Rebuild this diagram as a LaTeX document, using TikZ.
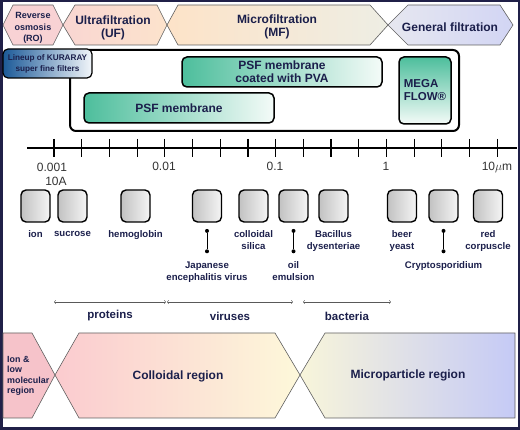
\documentclass[tikz,border=0pt]{standalone}
\usepackage{fontspec}
\setmainfont{Liberation Sans}
\usetikzlibrary{positioning}

\definecolor{navy}{HTML}{1B1F4B}
\definecolor{frame}{HTML}{202048}
\definecolor{roFill}{HTML}{F8D2D4}
\definecolor{ufA}{HTML}{F9D6D2}
\definecolor{ufB}{HTML}{FCE3CC}
\definecolor{mfA}{HTML}{FDE3C8}
\definecolor{mfB}{HTML}{F9EBD6}
\definecolor{mfC}{HTML}{EEEEE4}
\definecolor{gfA}{HTML}{E6E7F0}
\definecolor{gfB}{HTML}{D2D5F4}
\definecolor{kurA}{HTML}{1C5A98}
\definecolor{kurB}{HTML}{F2F6FA}
\definecolor{psfA}{HTML}{4DBE9C}
\definecolor{psfB}{HTML}{F4FBF8}
\definecolor{ionFill}{HTML}{F6C3CA}
\definecolor{colA}{HTML}{FBCBCF}
\definecolor{colB}{HTML}{FDE3C5}
\definecolor{colC}{HTML}{FDF8DA}
\definecolor{micA}{HTML}{F8F5DA}
\definecolor{micB}{HTML}{E4E4E8}
\definecolor{micC}{HTML}{C5CAF6}

\begin{document}
\begin{tikzpicture}[x=1pt,y=-1pt,>=to,
	band/.style={draw=gray!75!black, line width=0.6pt},
	bandtext/.style={text=navy, font=\bfseries\fontsize{12}{13}\selectfont, align=center},
	filter/.style={draw=black, line width=1.5pt, rounded corners=5pt, text=navy, font=\bfseries\fontsize{12}{13}\selectfont, align=center},
	particle/.style={draw=black, line width=1.4pt, rounded corners=5pt, minimum width=29pt, minimum height=32pt, inner sep=0pt, left color=black!24, right color=black!4},
	plabel/.style={text=navy, font=\bfseries\fontsize{9.6}{12}\selectfont, align=center, inner sep=0pt},
	pindot/.style={circle, fill=black, inner sep=0pt, minimum size=4pt},
	pin/.style={line width=1pt},
	sizerange/.style={<->, draw=gray!70!black, line width=0.5pt},
	scalelbl/.style={text=black!80, font=\fontsize{12}{13}\selectfont}]
	%frame
	\useasboundingbox (0,0) rectangle (520,430);
	\draw[line width=2.5pt, draw=frame] (1.25,1.25) rectangle (518.75,428.75);
	
	%top band
	\draw[band, fill=roFill] (3,25) -- (13,5) -- (53,5) -- (63,25) -- (53,45) -- (13,45) -- cycle;
	\draw[band, left color=ufA, right color=ufB] (63,25) -- (75,5) -- (157,5) -- (167,25) -- (157,45) -- (75,45) -- cycle;
	\draw[band, left color=mfA, middle color=mfB, right color=mfC] (167,25) -- (178,5) -- (370,5) -- (388,25) -- (370,45) -- (178,45) -- cycle;
	\draw[band, left color=gfA, right color=gfB] (388,25) -- (408,5) -- (500,5) -- (513,25) -- (500,45) -- (408,45) -- cycle;
	\node[bandtext, font=\bfseries\fontsize{9}{11.5}\selectfont] (ro) at (33,28) {Reverse\\osmosis\\(RO)};
	\node[bandtext] (uf) at (113,28) {Ultrafiltration\\(UF)};
	\node[bandtext] (mf) at (277,27) {Microfiltration\\(MF)};
	\node[bandtext] (gf) at (450,27) {General filtration};
	
	%filter lineup
	\draw[line width=2pt, rounded corners=6pt] (70,50) rectangle (459,131);
	\node[filter, line width=1.2pt, left color=kurA, right color=kurB, minimum width=89pt, minimum height=29pt, inner sep=0pt, font=\bfseries\fontsize{8.2}{11}\selectfont] (kuraray) at (47.5,63.5) {Lineup of KURARAY\\super fine filters};
	\node[filter, left color=psfA, right color=psfB, minimum width=200pt, minimum height=30pt, inner sep=0pt] (pva) at (282,72) {PSF membrane\\coated with PVA};
	\node[filter, left color=psfA, right color=psfB, minimum width=190pt, minimum height=30pt, inner sep=0pt] (psf) at (179,108) {PSF membrane};
	\node[filter, top color=psfA, bottom color=psfB, minimum width=52pt, minimum height=67pt, inner sep=0pt, align=left, font=\bfseries\fontsize{11.5}{13}\selectfont] (mega) at (425,90.5) {MEGA\\FLOW®};
	
	%size scale
	\draw[line width=2pt] (27,148) -- (517,148);
	\draw[line width=1.2pt] (54,139) -- (54,157) (81.7,139) -- (81.7,157) (109.4,139) -- (109.4,157)
		(137.1,139) -- (137.1,157) (164.8,139) -- (164.8,157) (192.5,139) -- (192.5,157)
		(220.2,139) -- (220.2,157) (247.9,139) -- (247.9,157) (275.6,139) -- (275.6,157)
		(303.3,139) -- (303.3,157) (331,139) -- (331,157) (358.7,139) -- (358.7,157)
		(386.4,139) -- (386.4,157) (414.1,139) -- (414.1,157) (441.8,139) -- (441.8,157)
		(469.5,139) -- (469.5,157) (497.2,139) -- (497.2,157);
	\node[scalelbl] (s1) at (52,167) {0.001};
	\node[scalelbl] (s1b) at (56,181) {10A};
	\node[scalelbl] (s2) at (164,166) {0.01};
	\node[scalelbl] (s3) at (275,166) {0.1};
	\node[scalelbl] (s4) at (386,166) {1};
	\node[scalelbl] (s5) at (497,167) {10$\mu$m};
	
	%particles
	\node[particle] (ion) at (35.5,206) {};
	\node[particle] (sucrose) at (72.5,206) {};
	\node[particle] (hemo) at (135.5,206) {};
	\node[particle] (jev) at (207,206) {};
	\node[particle] (silica) at (253.5,206) {};
	\node[particle] (oil) at (293.5,206) {};
	\node[particle] (bacillus) at (333.5,206) {};
	\node[particle] (yeast) at (402,206) {};
	\node[particle] (crypto) at (443.5,206) {};
	\node[particle] (redc) at (488,206) {};
	
	%particle labels
	\node[plabel, below=8pt of ion] (ionL) {ion};
	\node[plabel, below=8pt of sucrose] (sucroseL) {sucrose};
	\node[plabel, below=8pt of hemo] (hemoL) {hemoglobin};
	\node[plabel, below=8pt of silica] (silicaL) {colloidal\\silica};
	\node[plabel, below=8pt of bacillus] (bacillusL) {Bacillus\\dysenteriae};
	\node[plabel, below=8pt of yeast] (yeastL) {beer\\yeast};
	\node[plabel, below=8pt of redc] (redcL) {red\\corpuscle};
	
	%pins
	\node[pindot, below=6pt of jev] (jevA) {};
	\node[pindot, below=16pt of jevA] (jevB) {};
	\draw[pin] (jevA) -- (jevB);
	\node[plabel, below=8pt of jevB] (jevL) {Japanese\\encephalitis virus};
	%
	\node[pindot, below=6pt of oil] (oilA) {};
	\node[pindot, below=16pt of oilA] (oilB) {};
	\draw[pin] (oilA) -- (oilB);
	\node[plabel, below=8pt of oilB] (oilL) {oil\\emulsion};
	%
	\node[pindot, below=6pt of crypto] (cryptoA) {};
	\node[pindot, below=16pt of cryptoA] (cryptoB) {};
	\draw[pin] (cryptoA) -- (cryptoB);
	\node[plabel, below=8pt of cryptoB] (cryptoL) {Cryptosporidium};
	
	%ranges
	\coordinate (protA) at (54,302);
	\coordinate (protB) at (166,302);
	\coordinate (virA) at (167,302);
	\coordinate (virB) at (293,302);
	\coordinate (bacA) at (303,302);
	\coordinate (bacB) at (391,302);
	\draw[sizerange] (protA) -- (protB);
	\draw[sizerange] (virA) -- (virB);
	\draw[sizerange] (bacA) -- (bacB);
	\node[bandtext, font=\bfseries\fontsize{11.5}{13}\selectfont] (prot) at (110,316) {proteins};
	\node[bandtext, font=\bfseries\fontsize{11.5}{13}\selectfont] (vir) at (230,316) {viruses};
	\node[bandtext, font=\bfseries\fontsize{11.5}{13}\selectfont] (bac) at (347,316) {bacteria};
	
	%bottom band
	\draw[band, fill=ionFill] (3,333) -- (32,333) -- (55,375) -- (32,418) -- (3,418) -- cycle;
	\draw[band, left color=colA, middle color=colB, right color=colC] (55,375) -- (79,333) -- (275,333) -- (300,375) -- (275,418) -- (79,418) -- cycle;
	\draw[band, left color=micA, middle color=micB, right color=micC] (300,375) -- (325,333) -- (515,333) -- (515,418) -- (325,418) -- cycle;
	\node[bandtext, anchor=west, align=left, inner sep=0pt, font=\bfseries\fontsize{8.9}{10.3}\selectfont] (ionreg) at (7,376) {Ion \&\\low\\molecular\\region};
	\node[bandtext] (colloid) at (178,376) {Colloidal region};
	\node[bandtext] (micro) at (408,375) {Microparticle region};
\end{tikzpicture}
\end{document}
